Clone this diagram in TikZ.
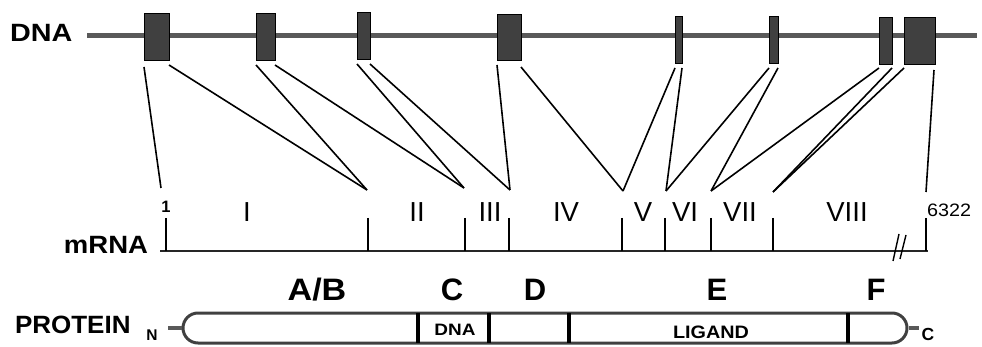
\documentclass[tikz,border=0pt]{standalone}
\usepackage{fontspec}
\setmainfont{Liberation Sans}
\begin{document}
\begin{tikzpicture}[x=1pt,y=-1pt,
  exon/.style={draw=black, fill=black!75, line width=0.8pt, inner sep=0pt, outer sep=0pt},
  dnaline/.style={line width=5pt, black!65},
  link/.style={line width=1.6pt, black},
  tickline/.style={line width=1.7pt, black},
  rnaline/.style={line width=2.4pt, black!85},
  lbl/.style={inner sep=0pt, outer sep=0pt, anchor=base},
  roman/.style={lbl, font=\fontsize{27.5}{27.5}\selectfont},
  domlbl/.style={lbl, font=\fontsize{31}{31}\selectfont\bfseries},
  divider/.style={line width=3.4pt, black},
  stub/.style={line width=3.5pt, black!65}
]
\useasboundingbox (0,0) rectangle (982,347);

% ---------- DNA ----------
\node[lbl, anchor=base west] (dnalbl) at (10,42) {\fontsize{25}{25}\selectfont\bfseries\scalebox{1.15}[1]{DNA}};
\coordinate (dl) at (87,36);
\coordinate (dr) at (977,36);
\draw[dnaline] (dl) -- (dr);

\node[exon, minimum width=25pt, minimum height=47pt] (e1) at (156.5,36.5) {};
\node[exon, minimum width=19pt, minimum height=47pt] (e2) at (265.5,36.5) {};
\node[exon, minimum width=13pt, minimum height=47pt] (e3) at (363.5,35.5) {};
\node[exon, minimum width=24pt, minimum height=46pt] (e4) at (509,37) {};
\node[exon, minimum width=7pt,  minimum height=47pt] (e5) at (678.5,39.5) {};
\node[exon, minimum width=9pt,  minimum height=47pt] (e6) at (773.5,39.5) {};
\node[exon, minimum width=13pt, minimum height=47pt] (e7) at (885.5,40.5) {};
\node[exon, minimum width=31pt, minimum height=47pt] (e8) at (919.5,40.5) {};

% ---------- convergence points on mRNA ----------
\coordinate (p1) at (161,188);
\coordinate (p2) at (367,190);
\coordinate (p3) at (464,188);
\coordinate (p4) at (510,190);
\coordinate (p5) at (623,191);
\coordinate (p6) at (666,191);
\coordinate (p7) at (711,191);
\coordinate (p8) at (773,192);
\coordinate (p9) at (926,192);

\draw[link] ([yshift=-7pt]e1.south west) -- (p1);
\draw[link] ([yshift=-5pt]e1.south east) -- (p2);
\draw[link] ([yshift=-5pt]e2.south west) -- (p2);
\draw[link] ([yshift=-5pt]e2.south east) -- (p3);
\draw[link] ([yshift=-5pt]e3.south west) -- (p3);
\draw[link] ([yshift=-5pt]e3.south east) -- (p4);
\draw[link] ([yshift=-5pt]e4.south west) -- (p4);
\draw[link] ([yshift=-7pt]e4.south east) -- (p5);
\draw[link] ([yshift=-5pt]e5.south west) -- (p5);
\draw[link] ([yshift=-5pt]e5.south east) -- (p6);
\draw[link] ([yshift=-5pt]e6.south west) -- (p6);
\draw[link] ([yshift=-5pt]e6.south east) -- (p7);
\draw[link] ([yshift=-4pt]e7.south west) -- (p7);
\draw[link] ([yshift=-4pt]e7.south east) -- (p8);
\draw[link] ([yshift=-4pt]e8.south west) -- (p8);
\draw[link] ([yshift=-6pt,xshift=-1pt]e8.south east) -- (p9);

% ---------- mRNA ----------
\node[lbl, anchor=base east] (rnalbl) at (148,254) {\fontsize{25}{25}\selectfont\bfseries\scalebox{1.1}[1]{mRNA}};
\coordinate (m0) at (160,251);
\coordinate (m1) at (928,251);
\draw[rnaline] (m0) -- (m1);
\foreach \t/\x in {t1/166,t2/368,t3/465,t4/509,t5/622,t6/665,t7/711,t8/773,t9/926}{
  \coordinate (\t a) at (\x,218);
  \coordinate (\t b) at (\x,251);
  \draw[tickline] (\t a) -- (\t b);
}
\node[lbl] (one) at (166,213) {\fontsize{16.5}{16.5}\selectfont\bfseries 1};
\node[lbl, anchor=base west] (end) at (927,217) {\fontsize{18}{18}\selectfont\scalebox{1.1}[1]{6322}};

\node[roman] (r1) at (247,222) {I};
\node[roman] (r2) at (417,222) {II};
\node[roman] (r3) at (490,222) {III};
\node[roman] (r4) at (566,222) {IV};
\node[roman] (r5) at (643,222) {V};
\node[roman] (r6) at (685,222) {VI};
\node[roman] (r7) at (740,222) {VII};
\node[roman] (r8) at (847,222) {VIII};

% break marks
\coordinate (b1a) at (893,261); \coordinate (b1b) at (899,234);
\coordinate (b2a) at (900,259); \coordinate (b2b) at (906,235);
\draw[line width=1.4pt] (b1a) -- (b1b);
\draw[line width=1.4pt] (b2a) -- (b2b);

% ---------- PROTEIN ----------
\node[lbl, anchor=base west] (protlbl) at (15,333) {\fontsize{25}{25}\selectfont\bfseries\scalebox{1.04}[1]{PROTEIN}};
\node[lbl] (nterm) at (152,340) {\fontsize{15.5}{15.5}\selectfont\bfseries N};
\node[lbl] (cterm) at (928,340) {\fontsize{17.5}{17.5}\selectfont\bfseries C};

\node[draw=black!75, line width=3pt, rounded corners=15pt, minimum width=724pt, minimum height=30pt, inner sep=0pt] (bar) at (545,328) {};
\draw[stub] (bar.west) -- ++(-14,0) coordinate (nstub);
\draw[stub] (bar.east) -- ++(10,0) coordinate (cstub);

\foreach \d/\x in {d1/418,d2/489,d3/569,d4/848}{
  \coordinate (\d a) at (\x,313);
  \coordinate (\d b) at (\x,343);
  \draw[divider] (\d a) -- (\d b);
}

\node[lbl] (dnadom) at (455,335) {\fontsize{16.5}{16.5}\selectfont\bfseries\scalebox{1.15}[1]{DNA}};
\node[lbl] (ligand) at (711,338) {\fontsize{18}{18}\selectfont\bfseries\scalebox{1.1}[1]{LIGAND}};

\node[domlbl] (dAB) at (317,300) {\scalebox{1.1}[1]{A/B}};
\node[domlbl] (dC) at (452,300) {C};
\node[domlbl] (dD) at (535,300) {D};
\node[domlbl] (dE) at (717,300) {E};
\node[domlbl] (dF) at (876,300) {F};
\end{tikzpicture}
\end{document}
